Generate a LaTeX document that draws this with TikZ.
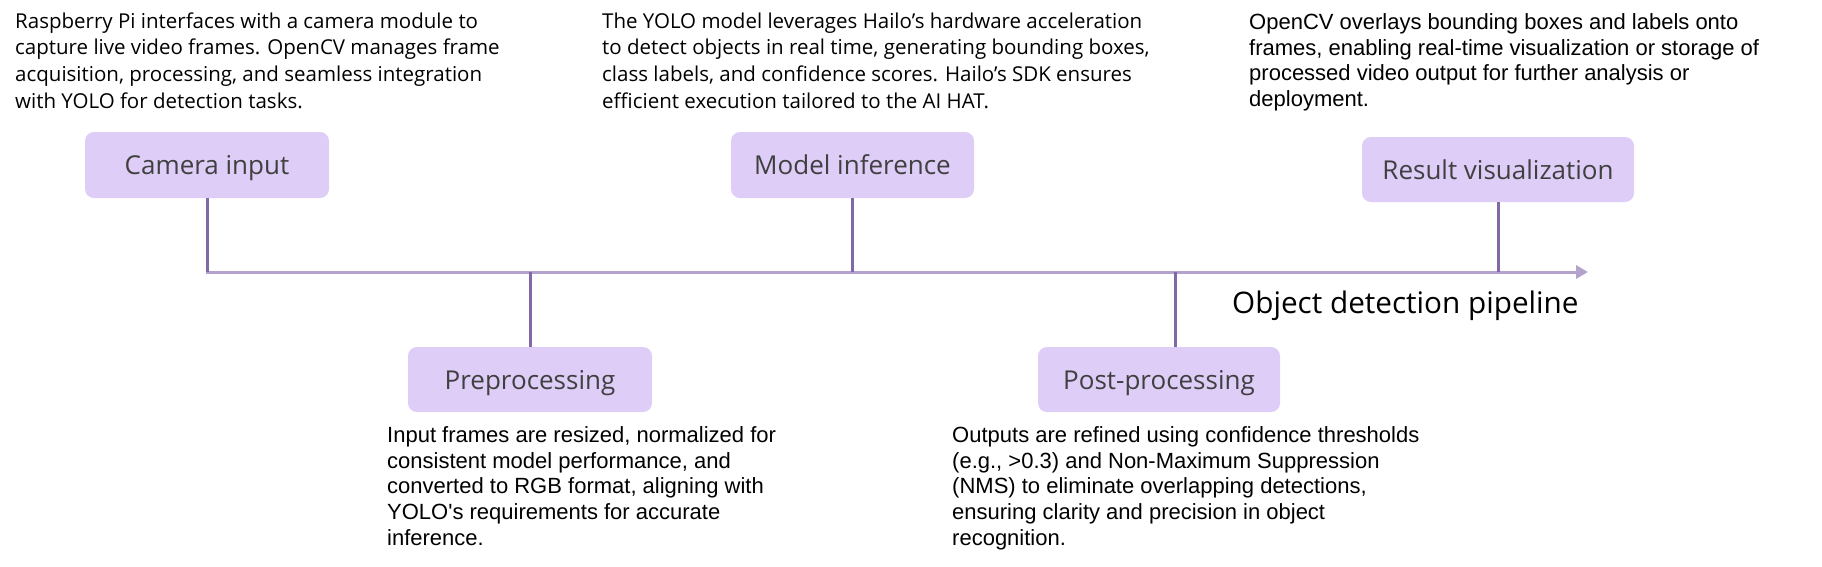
\documentclass[tikz,border=0pt]{standalone}
\usepackage{fontspec}
\newfontfamily\aptos{Open Sans}
\newfontfamily\arialf{Liberation Sans}
\usetikzlibrary{arrows.meta}
\definecolor{boxfill}{HTML}{DDCDF7}
\definecolor{boxtext}{HTML}{404040}
\definecolor{stemcol}{HTML}{8069A6}
\definecolor{axiscol}{HTML}{B3A3CC}
\begin{document}
\begin{tikzpicture}[x=1pt,y=-1pt,
  stepbox/.style={fill=boxfill, rounded corners=9pt, inner sep=0pt, text=boxtext, text depth=0pt, font=\aptos\fontsize{26}{30}\selectfont},
  desc/.style={anchor=north west, inner sep=0pt, align=left, text=black},
  descA/.style={desc, font=\aptos\fontsize{20.5}{26.7}\selectfont},
  descB/.style={desc, font=\arialf\fontsize{22}{25.8}\selectfont},
  stem/.style={draw=stemcol, line width=3pt},
  axis/.style={draw=axiscol, line width=3pt, -{Triangle[length=12pt,width=13pt]}}
]
\useasboundingbox (0,0) rectangle (1822,566);
% boxes
\node[stepbox, minimum width=244pt, minimum height=66pt] (cam) at (207,165) {Camera input};
\node[stepbox, minimum width=243pt, minimum height=66pt] (model) at (852.5,165) {Model inference};
\node[stepbox, minimum width=272pt, minimum height=65pt] (result) at (1498,169.5) {Result visualization};
\node[stepbox, minimum width=244pt, minimum height=65pt] (pre) at (530,379.5) {Preprocessing};
\node[stepbox, minimum width=242pt, minimum height=65pt] (post) at (1159,379.5) {Post-processing};
% axis
\coordinate (ts) at (205.5,272);
\coordinate (te) at (1588,272);
\draw[axis] (ts) -- (te);
\coordinate (pp) at (1175,347);
% stems
\draw[stem] (cam.south) -- (cam.south |- ts);
\draw[stem] (model.south) -- (model.south |- ts);
\draw[stem] (result.south) -- (result.south |- ts);
\draw[stem] (pre.north) -- (pre.north |- ts);
\draw[stem] (pp) -- (pp |- ts);
% title
\node[anchor=base west, inner sep=0pt, font=\aptos\fontsize{29.7}{34}\selectfont] (title) at (1232,313) {Object detection pipeline};
% descriptions
\node[descA] (dcam) at (15,8) {\rule{0pt}{20pt}Raspberry Pi interfaces with a camera module to\\capture live video frames. OpenCV manages frame\\acquisition, processing, and seamless integration\\with YOLO for detection tasks.};
\node[descA] (dmodel) at (602,8) {\rule{0pt}{20pt}The YOLO model leverages Hailo’s hardware acceleration\\to detect objects in real time, generating bounding boxes,\\class labels, and confidence scores. Hailo’s SDK ensures\\efficient execution tailored to the AI HAT.};
\node[descB] (dresult) at (1249,9) {\rule{0pt}{20pt}OpenCV overlays bounding boxes and labels onto\\frames, enabling real-time visualization or storage of\\processed video output for further analysis or\\deployment.};
\node[descB] (dpre) at (387,422) {\rule{0pt}{20pt}Input frames are resized, normalized for\\consistent model performance, and\\converted to RGB format, aligning with\\YOLO\textquotesingle s requirements for accurate\\inference.};
\node[descB] (dpost) at (952,422) {\rule{0pt}{20pt}Outputs are refined using confidence thresholds\\(e.g., >0.3) and Non-Maximum Suppression\\(NMS) to eliminate overlapping detections,\\ensuring clarity and precision in object\\recognition.};
\end{tikzpicture}
\end{document}
